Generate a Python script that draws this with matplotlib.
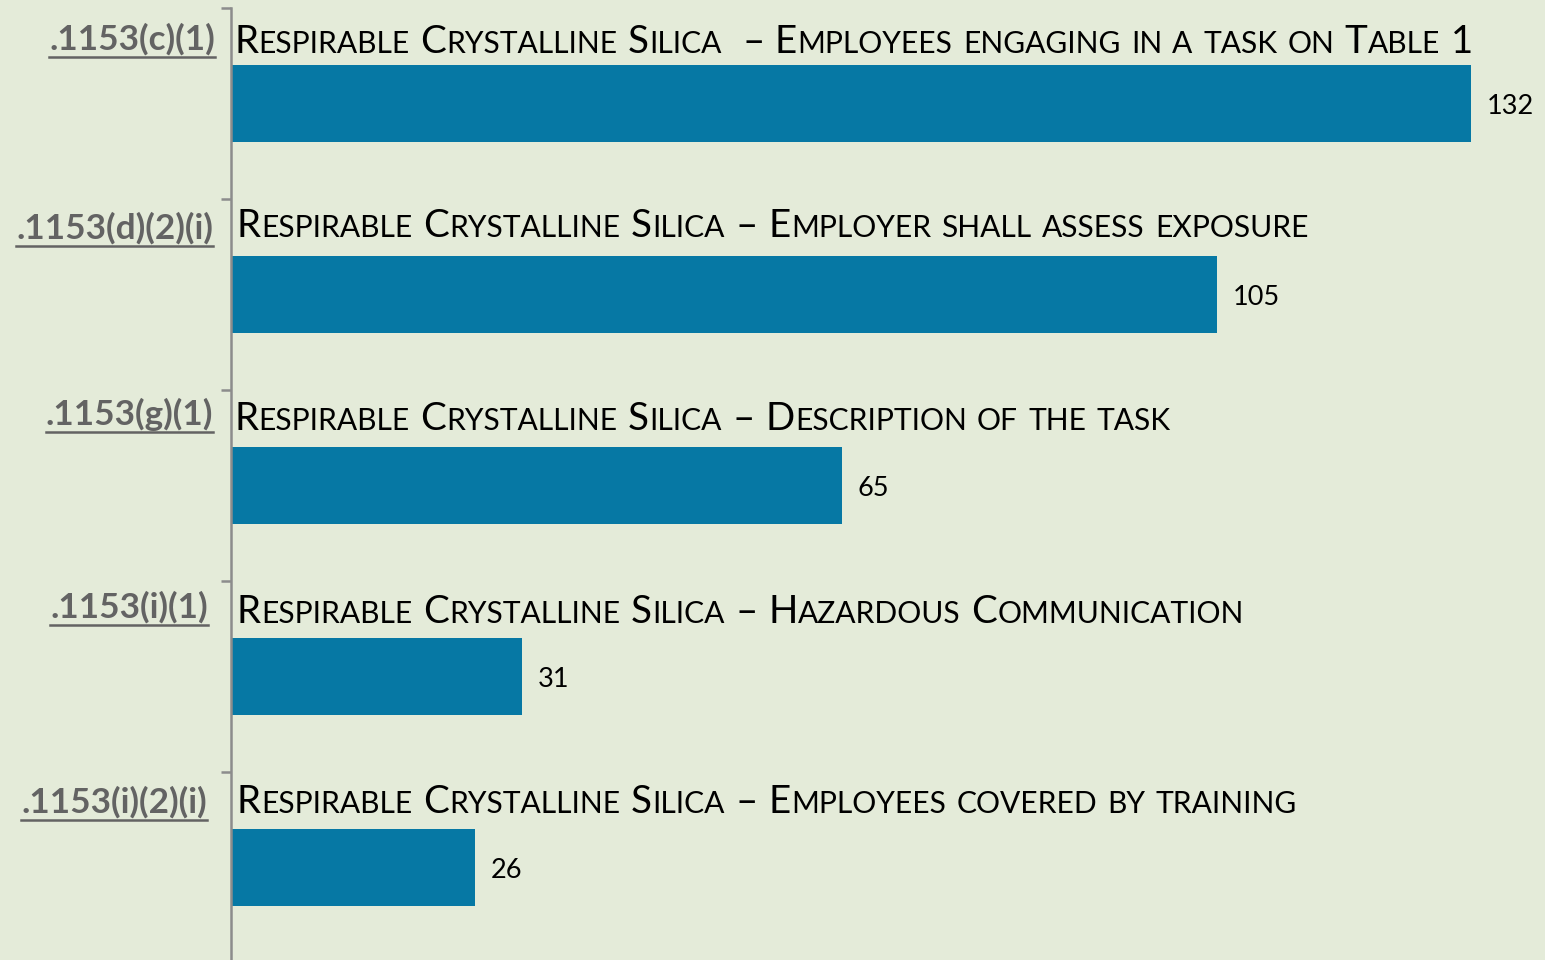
import matplotlib
matplotlib.use("Agg")
import matplotlib.pyplot as plt
from matplotlib.transforms import IdentityTransform
from matplotlib.lines import Line2D

# ---- data ----
codes = [".1153(c)(1)", ".1153(d)(2)(i)", ".1153(g)(1)", ".1153(i)(1)", ".1153(i)(2)(i)"]
titles = [
    "Respirable Crystalline Silica  – Employees engaging in a task on Table 1",
    "Respirable Crystalline Silica – Employer shall assess exposure",
    "Respirable Crystalline Silica – Description of the task",
    "Respirable Crystalline Silica – Hazardous Communication",
    "Respirable Crystalline Silica – Employees covered by training",
]
counts = [132, 105, 65, 31, 26]

# ---- style ----
BG = "#E4EBD9"
BAR = "#0678A4"
AXIS = "#8C8C8C"
CODE_COL = "#636363"
FONT = "Lato"
W, H = 1545, 960
TITLE_SIZE = 27.7
SC_RATIO = 0.78
CODE_SIZE = 25.3
VAL_SIZE = 19.5
title_dy = [45, 38, 40, 42, 41]
title_dx = [3, 6, 3, 6, 6]
code_dy = [42, 40, 35, 37, 41]
code_dx = [16, 18, 18, 23, 24]

fig = plt.figure(figsize=(W / 100, H / 100), dpi=100, facecolor=BG)
ax = fig.add_axes([231 / W, -3 / H, 1315 / W, 955 / H])
ax.set_facecolor(BG)
pos = list(range(len(counts)))
ax.barh(pos, counts, height=0.4, color=BAR)
ax.set_xlim(0, 140)
ax.set_ylim(len(counts) - 0.5, -0.5)
for s in ["top", "right", "bottom"]:
    ax.spines[s].set_visible(False)
ax.spines["left"].set_color(AXIS)
ax.spines["left"].set_linewidth(1.8)
ax.set_xticks([])
ax.set_yticks([p - 0.5 for p in pos])
ax.set_yticklabels([])
ax.tick_params(axis="y", length=7, width=1.8, color=AXIS)

for p, v in zip(pos, counts):
    ax.annotate(str(v), xy=(v, p), xytext=(11.5, -2.2), textcoords="offset points",
                va="center", ha="left", fontsize=VAL_SIZE, family=FONT, color="black")

fig.canvas.draw()
renderer = fig.canvas.get_renderer()
ident = IdentityTransform()


def width_of(s, size, weight="normal"):
    t = fig.text(0, 0, s, fontsize=size, family=FONT, weight=weight, transform=ident)
    w = t.get_window_extent(renderer).width
    t.remove()
    return w


def smallcaps(x, y, text, size, ratio):
    small = size * ratio
    space = width_of("a a", size) - width_of("aa", size)
    words = text.split(" ")
    for i, word in enumerate(words):
        if i > 0:
            x += space
        if not word:
            continue
        runs = []
        for c in word:
            kind = "s" if c.islower() else "b"
            if runs and runs[-1][0] == kind:
                runs[-1][1] += c
            else:
                runs.append([kind, c])
        for kind, s in runs:
            fs = small if kind == "s" else size
            t = fig.text(x, y, s.upper(), fontsize=fs, family=FONT, color="black",
                         ha="left", va="baseline", transform=ident)
            x += t.get_window_extent(renderer).width + 0.5


for p, code, title, tdy, tdx, cdy, cdx in zip(pos, codes, titles, title_dy, title_dx, code_dy, code_dx):
    x0, ytop = ax.transData.transform((0, p - 0.5))
    smallcaps(x0 + tdx, ytop - tdy, title, TITLE_SIZE, SC_RATIO)
    t = fig.text(x0 - cdx, ytop - cdy, code, fontsize=CODE_SIZE, family=FONT, weight="bold",
                 color=CODE_COL, ha="right", va="baseline", transform=ident)
    bb = t.get_window_extent(renderer)
    uy = ytop - cdy - 7
    fig.add_artist(Line2D([bb.x0, bb.x1], [uy, uy], transform=ident, color=CODE_COL, linewidth=1.8))

fig.savefig("out.png", dpi=100, facecolor=BG)
